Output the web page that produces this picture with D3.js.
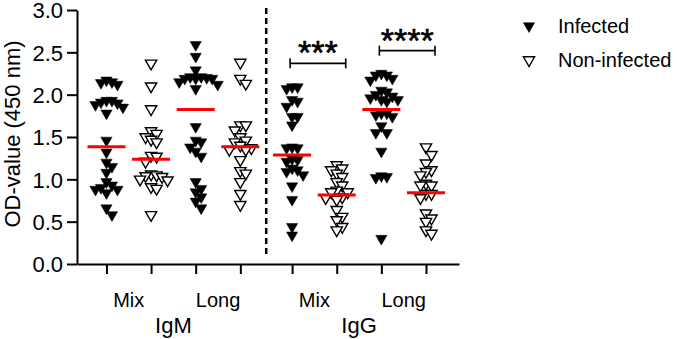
<!DOCTYPE html>
<html lang="en">
<head>
    <meta charset="UTF-8">
    <title>OD-value IgM / IgG</title>
    <script src="https://d3js.org/d3.v7.min.js"></script>
    <style>
        body { margin: 0; background: #fff; }
        text { font-family: Arial, "Liberation Sans", sans-serif; fill: #000; }
    </style>
</head>
<body>
    <svg></svg>
    <script>
        // Values (OD at 450 nm), one array per column
        const igmMixInf  = [2.17, 2.15, 2.14, 2.12, 1.93, 1.93, 1.91, 1.90, 1.88, 1.85, 1.78, 1.46, 1.32, 1.20, 1.15, 1.08, 0.97, 0.93, 0.90, 0.88, 0.88, 0.84, 0.66, 0.58];
        const igmMixNon  = [2.37, 2.10, 1.83, 1.57, 1.54, 1.50, 1.47, 1.44, 1.28, 1.27, 1.21, 1.06, 1.05, 1.04, 1.03, 1.00, 0.99, 0.91, 0.89, 0.58];
        const igmLongInf = [2.59, 2.45, 2.29, 2.21, 2.21, 2.20, 2.19, 2.19, 2.19, 2.15, 2.12, 2.07, 1.62, 1.46, 1.44, 1.38, 1.33, 1.27, 0.97, 0.89, 0.85, 0.79, 0.74, 0.66];
        const igmLongNon = [2.38, 2.19, 2.13, 1.64, 1.64, 1.58, 1.50, 1.46, 1.44, 1.40, 1.37, 1.35, 1.35, 1.23, 1.10, 1.07, 0.97, 0.83, 0.70];
        const iggMixInf  = [2.09, 2.09, 2.07, 1.94, 1.92, 1.86, 1.74, 1.74, 1.64, 1.38, 1.37, 1.37, 1.24, 1.23, 1.21, 1.13, 1.11, 1.09, 1.05, 0.92, 0.76, 0.44, 0.34];
        const iggMixNon  = [1.17, 1.13, 1.11, 1.07, 1.03, 0.97, 0.93, 0.87, 0.85, 0.85, 0.79, 0.78, 0.76, 0.64, 0.56, 0.52, 0.44, 0.40];
        const iggLongInf = [2.25, 2.23, 2.23, 2.19, 2.17, 2.05, 2.03, 2.00, 1.98, 1.96, 1.94, 1.94, 1.92, 1.78, 1.78, 1.76, 1.74, 1.63, 1.55, 1.55, 1.33, 1.04, 1.03, 1.02, 0.30];
        const iggLongNon = [1.38, 1.29, 1.19, 1.11, 1.09, 1.05, 0.95, 0.93, 0.93, 0.83, 0.83, 0.78, 0.60, 0.54, 0.50, 0.40, 0.36];

        // median lines (red)
        const medians = [1.385, 1.236, 1.826, 1.385, 1.287, 0.815, 1.826, 0.842];

        const columns = [igmMixInf, igmMixNon, igmLongInf, igmLongNon, iggMixInf, iggMixNon, iggLongInf, iggLongNon];
        const infected = [true, false, true, false, true, false, true, false];
        const subLabels = ["Mix", "Long", "Mix", "Long"];
        const isotypes = ["IgM", "IgG"];
        const yTicks = [0, 0.5, 1.0, 1.5, 2.0, 2.5, 3.0];
        const legendLabels = ["Infected", "Non-infected"];
        const stats = [
            {from: 4, to: 5, label: "***", level: 2.37},
            {from: 6, to: 7, label: "****", level: 2.52}
        ];

        const W = 677, H = 339;
        const svg = d3.select("svg").attr("width", W).attr("height", H);

        // slot positions, with a small gap between IgM and IgG blocks
        const slot = i => i + (i >= 4 ? 0.16 : 0);
        const x = d3.scaleLinear().domain([-0.66, 7.9]).range([77, 459]);
        const y = d3.scaleLinear().domain([0, 3]).range([264, 10]);

        // Y axis
        const yAxis = svg.append("g")
            .attr("transform", `translate(${x.range()[0]},0)`)
            .call(d3.axisLeft(y).tickValues(yTicks).tickFormat(d3.format(".1f"))
                .tickSize(10).tickSizeOuter(0).tickPadding(4));
        yAxis.selectAll("text").style("font-size", "22px").attr("dy", "0.35em");
        yAxis.selectAll("line, path").attr("stroke", "#000").attr("stroke-width", 2);

        // X axis
        const xAxis = svg.append("g")
            .attr("transform", `translate(0,${y(0)})`)
            .call(d3.axisBottom(x).tickValues(d3.range(8).map(slot)).tickFormat("")
                .tickSize(10).tickSizeOuter(0));
        xAxis.selectAll("line, path").attr("stroke", "#000").attr("stroke-width", 2);

        // Sub labels (Mix / Long) centred between pairs
        svg.append("g").selectAll("text")
            .data(subLabels)
            .join("text")
            .attr("x", (d, i) => x((slot(2 * i) + slot(2 * i + 1)) / 2))
            .attr("y", 307)
            .attr("text-anchor", "middle")
            .style("font-size", "20px")
            .text(d => d);

        svg.append("g").selectAll("text")
            .data(isotypes)
            .join("text")
            .attr("x", (d, i) => x((slot(4 * i) + slot(4 * i + 3)) / 2))
            .attr("y", 333)
            .attr("text-anchor", "middle")
            .style("font-size", "22px")
            .text(d => d);

        // Y axis title
        svg.append("text")
            .attr("transform", `translate(20,${(y(0) + y(3)) / 2 - 3}) rotate(-90)`)
            .attr("text-anchor", "middle")
            .style("font-size", "22px")
            .text("OD-value (450 nm)");

        // dashed separator between IgM and IgG
        const sepX = x((slot(3) + slot(4)) / 2);
        svg.append("line")
            .attr("x1", sepX).attr("x2", sepX)
            .attr("y1", y(3) - 2).attr("y2", y(0) - 6)
            .attr("stroke", "#000")
            .attr("stroke-width", 2.5)
            .attr("stroke-dasharray", "6,4");

        // triangle pointing down
        const tri = d3.symbol().type(d3.symbolTriangle).size(55);

        // simple dodge so overlapping points spread sideways
        function dodge(values, step, dyMin) {
            const placed = [];
            values.slice().sort((a, b) => b - a).forEach(v => {
                const py = y(v);
                let off = 0;
                for (let k = 0; k < 40; k++) {
                    off = (k % 2 ? 1 : -1) * Math.ceil(k / 2) * step;
                    const hit = placed.some(p => Math.abs(p.py - py) < dyMin && Math.abs(p.off - off) < step * 0.9);
                    if (!hit) break;
                }
                placed.push({v, py, off});
            });
            return placed;
        }

        columns.forEach((vals, i) => {
            const cx = x(slot(i));
            const pts = dodge(vals, 5.5, 8);
            svg.append("g").selectAll("path")
                .data(pts)
                .join("path")
                .attr("d", tri)
                .attr("transform", d => `translate(${cx + d.off},${d.py}) rotate(180)`)
                .attr("fill", infected[i] ? "#000" : "#fff")
                .attr("stroke", "#000")
                .attr("stroke-width", infected[i] ? 0.5 : 1.4);

            // median line
            svg.append("line")
                .attr("x1", cx - 19).attr("x2", cx + 19)
                .attr("y1", y(medians[i])).attr("y2", y(medians[i]))
                .attr("stroke", "#ff0000")
                .attr("stroke-width", 3);
        });

        // significance brackets
        stats.forEach(s => {
            const x1 = x(slot(s.from)) - 2, x2 = x(slot(s.to)) + 9, by = y(s.level);
            const g = svg.append("g").attr("stroke", "#000").attr("stroke-width", 1.6);
            g.append("line").attr("x1", x1).attr("x2", x2).attr("y1", by).attr("y2", by);
            g.append("line").attr("x1", x1).attr("x2", x1).attr("y1", by - 5).attr("y2", by + 5);
            g.append("line").attr("x1", x2).attr("x2", x2).attr("y1", by - 5).attr("y2", by + 5);
            svg.append("text")
                .attr("x", (x1 + x2) / 2)
                .attr("y", by + 1)
                .attr("text-anchor", "middle")
                .style("font-size", "34px")
                .style("stroke", "#000")
                .style("stroke-width", 0.6)
                .text(s.label);
        });

        // legend
        const legend = svg.append("g").attr("transform", "translate(529,26)");
        legendLabels.forEach((lab, i) => {
            legend.append("path")
                .attr("d", tri)
                .attr("transform", `translate(0,${i * 34}) rotate(180)`)
                .attr("fill", i === 0 ? "#000" : "#fff")
                .attr("stroke", "#000")
                .attr("stroke-width", i === 0 ? 0.5 : 1.4);
            legend.append("text")
                .attr("x", 29)
                .attr("y", i * 34 + 7)
                .style("font-size", "20px")
                .text(lab);
        });
    </script>
</body>
</html>
